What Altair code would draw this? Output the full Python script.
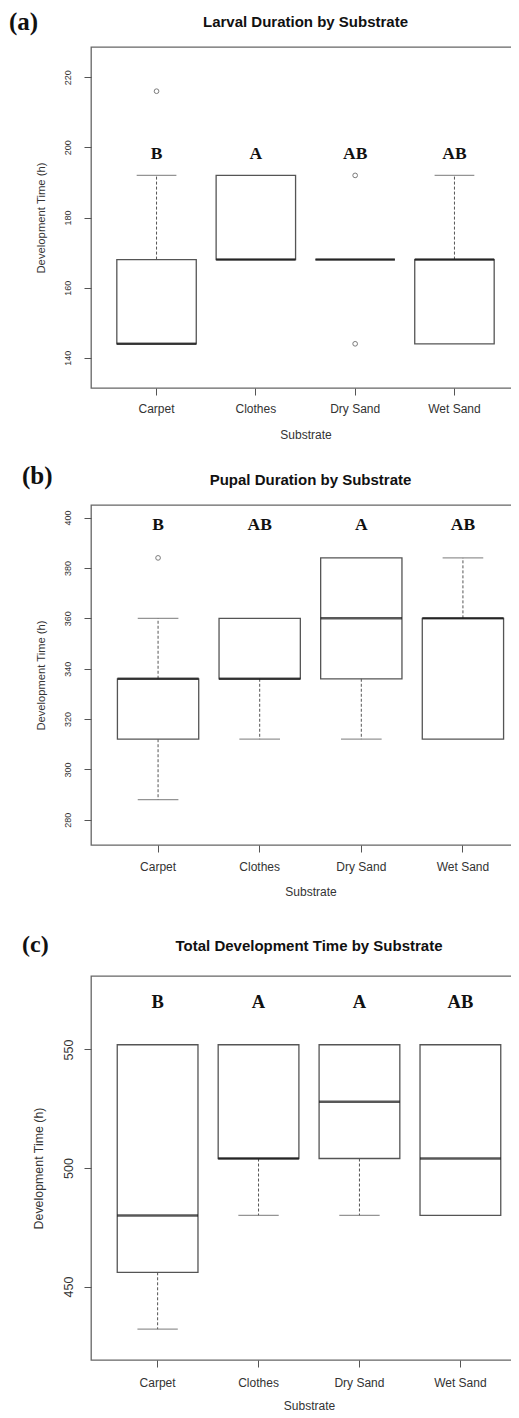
import altair as alt
import pandas as pd

categories = ["Carpet", "Clothes", "Dry Sand", "Wet Sand"]

# (a) Larval duration
larval_q1 = [144, 168, 168, 144]
larval_median = [144, 168, 168, 168]
larval_q3 = [168, 192, 168, 168]
larval_whisker_low = [144, 168, 168, 144]
larval_whisker_high = [192, 192, 168, 192]
larval_outlier_cat = ["Carpet", "Dry Sand", "Dry Sand"]
larval_outlier_val = [216, 192, 144]
larval_letters = ["B", "A", "AB", "AB"]
larval_letter_y = 198
larval_ylim = [131.4, 228.6]
larval_ticks = [140, 160, 180, 200, 220]

# (b) Pupal duration
pupal_q1 = [312, 336, 336, 312]
pupal_median = [336, 336, 360, 360]
pupal_q3 = [336, 360, 384, 360]
pupal_whisker_low = [288, 312, 312, 312]
pupal_whisker_high = [360, 360, 384, 384]
pupal_outlier_cat = ["Carpet"]
pupal_outlier_val = [384]
pupal_letters = ["B", "AB", "A", "AB"]
pupal_letter_y = 397
pupal_ylim = [270, 405]
pupal_ticks = [280, 300, 320, 340, 360, 380, 400]

# (c) Total development time
total_q1 = [456, 504, 504, 480]
total_median = [480, 504, 528, 504]
total_q3 = [552, 552, 552, 552]
total_whisker_low = [432, 480, 480, 480]
total_whisker_high = [552, 552, 552, 552]
total_outlier_cat = []
total_outlier_val = []
total_letters = ["B", "A", "A", "AB"]
total_letter_y = 570
total_ylim = [419, 581]
total_ticks = [450, 500, 550]

SANS = "Liberation Sans"
SERIF = "Liberation Serif"


def make_panel(q1, med, q3, wlo, whi, ocat, oval, letters, letter_y, ylim, ticks, s):
    H = s["H"]
    W = s["W"]
    step = W / 4.32
    box_w = 0.8 * step
    cap_w = 0.4 * step
    xscale = alt.Scale(domain=categories, paddingInner=0.2, paddingOuter=0.26)
    xenc = alt.X(
        "cat:N", sort=categories, scale=xscale,
        axis=alt.Axis(
            title="Substrate", labelAngle=0, labelFont=SANS, labelFontSize=12,
            labelColor="#333", labelPadding=s["xlp"], tickSize=7, tickColor="#555",
            tickWidth=1, domain=False, grid=False, titleFont=SANS, titleFontSize=12,
            titleFontWeight="normal", titleColor="#333", titlePadding=s["xtp"],
        ),
    )
    yscale = alt.Scale(domain=ylim, zero=False, nice=False)
    yenc = alt.Y(
        "v:Q", scale=yscale,
        axis=alt.Axis(
            title="Development Time (h)", values=ticks, labelAngle=270,
            labelAlign="center", labelBaseline="middle", labelFont=SANS,
            labelFontSize=s["ylf"], labelColor="#333", labelPadding=s["ylp"],
            tickSize=7, tickColor="#555", tickWidth=1, domain=False, grid=False,
            titleFont=SANS, titleFontSize=s["ytf"], titleFontWeight="normal",
            titleColor="#333", titlePadding=s["ytp"],
        ),
    )

    df_box = pd.DataFrame({"cat": categories, "v": q1, "v2": q3})
    df_med = pd.DataFrame({"cat": categories, "v": med})

    wr, cr = [], []
    for c, lo, b in zip(categories, wlo, q1):
        if lo < b:
            wr.append({"cat": c, "v": b, "v2": lo})
            cr.append({"cat": c, "v": lo})
    for c, hi, t in zip(categories, whi, q3):
        if hi > t:
            wr.append({"cat": c, "v": t, "v2": hi})
            cr.append({"cat": c, "v": hi})
    df_w = pd.DataFrame(wr)
    df_c = pd.DataFrame(cr)
    df_l = pd.DataFrame({"cat": categories, "v": [letter_y] * 4, "lab": letters})

    layers = []
    layers.append(
        alt.Chart(df_box).mark_bar(fill="white", stroke="#555", strokeWidth=1.3)
        .encode(x=xenc, y=yenc, y2="v2:Q")
    )
    if len(df_w):
        layers.append(
            alt.Chart(df_w).mark_rule(color="#555", strokeWidth=1, strokeDash=[3, 2])
            .encode(x="cat:N", y="v:Q", y2="v2:Q")
        )
        layers.append(
            alt.Chart(df_c).mark_tick(color="#666", thickness=1.3, size=cap_w)
            .encode(x="cat:N", y="v:Q")
        )
    layers.append(
        alt.Chart(df_med).mark_tick(color="#111", thickness=2.5, size=box_w)
        .encode(x="cat:N", y="v:Q")
    )
    if len(ocat):
        df_o = pd.DataFrame({"cat": ocat, "v": oval})
        layers.append(
            alt.Chart(df_o).mark_point(shape="circle", size=22, color="#444",
                                       strokeWidth=1, filled=False)
            .encode(x="cat:N", y="v:Q")
        )
    layers.append(
        alt.Chart(df_l).mark_text(font=SERIF, fontWeight="bold", fontSize=s["lfs"],
                                  color="#111", baseline="middle", align="center")
        .encode(x="cat:N", y="v:Q", text="lab:N")
    )
    layers.append(
        alt.Chart(pd.DataFrame({"t": [s["tag"]]}))
        .mark_text(font=SERIF, fontWeight="bold", fontSize=s["tfs"], align="left",
                   baseline="top", color="#111")
        .encode(x=alt.value(s["tag_x"]), y=alt.value(s["tag_y"] - s["tfs"] / 2),
                text="t:N")
    )
    layers.append(
        alt.Chart(pd.DataFrame({"t": [s["title"]]}))
        .mark_text(font=SANS, fontWeight="bold", fontSize=15, align="center",
                   baseline="top", color="#111")
        .encode(x=alt.value(W / 2), y=alt.value(s["title_y"] - 7.5), text="t:N")
    )
    # invisible spacer that fixes the panel's vertical extent
    layers.append(
        alt.Chart(pd.DataFrame({"k": [0]}))
        .mark_rule(color="white", strokeOpacity=0)
        .encode(x=alt.value(0), y=alt.value(-s["T"]), y2=alt.value(H + s["B"]))
    )
    return alt.layer(*layers).properties(width=W, height=H)


sa = dict(W=429, H=341, T=37, B=57, tag="(a)", tag_x=-82, tag_y=-25, tfs=25,
          title="Larval Duration by Substrate", title_y=-25, ylf=9, ylp=17,
          ytf=11.3, ytp=17, xlp=8, xtp=15, lfs=17.5)
sb = dict(W=439, H=340, T=58, B=57, tag="(b)", tag_x=-69, tag_y=-29, tfs=25,
          title="Pupal Duration by Substrate", title_y=-25, ylf=9, ylp=17,
          ytf=11.2, ytp=17, xlp=9, xtp=14, lfs=17.5)
sc = dict(W=436, H=384, T=72, B=52, tag="(c)", tag_x=-69, tag_y=-31, tfs=24,
          title="Total Development Time by Substrate", title_y=-30, ylf=12.5, ylp=16,
          ytf=12.4, ytp=17, xlp=10, xtp=12, lfs=18.5)

pa = make_panel(larval_q1, larval_median, larval_q3, larval_whisker_low,
                larval_whisker_high, larval_outlier_cat, larval_outlier_val,
                larval_letters, larval_letter_y, larval_ylim, larval_ticks, sa)
pb = make_panel(pupal_q1, pupal_median, pupal_q3, pupal_whisker_low,
                pupal_whisker_high, pupal_outlier_cat, pupal_outlier_val,
                pupal_letters, pupal_letter_y, pupal_ylim, pupal_ticks, sb)
pc = make_panel(total_q1, total_median, total_q3, total_whisker_low,
                total_whisker_high, total_outlier_cat, total_outlier_val,
                total_letters, total_letter_y, total_ylim, total_ticks, sc)

chart = (
    alt.vconcat(pa, pb, pc, spacing=0)
    .properties(padding={"left": 0, "top": 0, "right": -20, "bottom": 0})
    .configure(background="white")
    .configure_view(stroke="#666", strokeWidth=1.3)
)

chart.save("out.html", embed_options={"renderer": "svg", "actions": False})
